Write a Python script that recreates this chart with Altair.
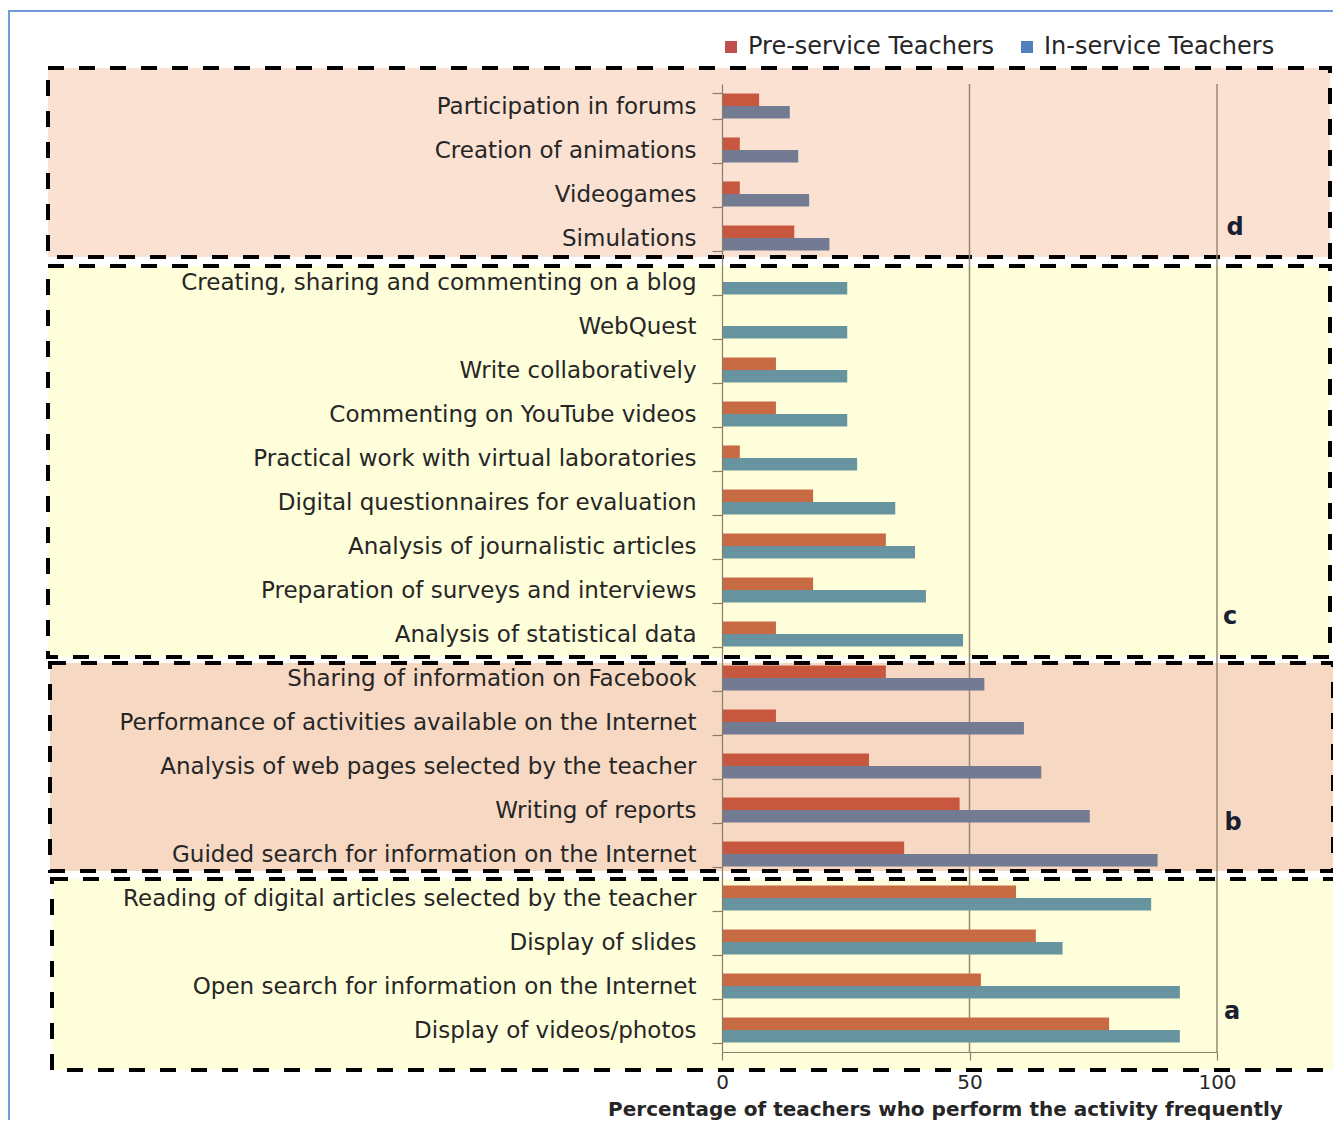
import altair as alt
import pandas as pd

# ---------------- data ----------------
activities = [
    "Participation in forums",
    "Creation of animations",
    "Videogames",
    "Simulations",
    "Creating, sharing and commenting on a blog",
    "WebQuest",
    "Write collaboratively",
    "Commenting on YouTube videos",
    "Practical work with virtual laboratories",
    "Digital questionnaires for evaluation",
    "Analysis of journalistic articles",
    "Preparation of surveys and interviews",
    "Analysis of statistical data",
    "Sharing of information on Facebook",
    "Performance of activities available on the Internet",
    "Analysis of web pages selected by the teacher",
    "Writing of reports",
    "Guided search for information on the Internet",
    "Reading of digital articles selected by the teacher",
    "Display of slides",
    "Open search for information on the Internet",
    "Display of videos/photos",
]
groups = ["d"] * 4 + ["c"] * 9 + ["b"] * 5 + ["a"] * 4
pre_service = [7.5, 3.6, 3.6, 14.6,
               0, 0, 10.9, 10.9, 3.6, 18.4, 33.1, 18.4, 10.9,
               33.1, 10.9, 29.7, 48.0, 36.8,
               59.4, 63.4, 52.3, 78.2]
in_service = [13.7, 15.4, 17.6, 21.7,
              25.3, 25.3, 25.3, 25.3, 27.3, 35.0, 39.0, 41.2, 48.7,
              53.0, 61.0, 64.5, 74.3, 88.0,
              86.7, 68.8, 92.5, 92.5]
series_names = ["Pre-service Teachers", "In-service Teachers"]
gridline_values = [50, 100]
x_ticks = [0, 50, 100]

# colours
legend_colors = ["#C0504D", "#4F81BD"]
bar_keys = ["pre-warm", "in-warm", "pre-cool", "in-cool"]
bar_colors = ["#C8573F", "#727B92", "#C86A43", "#6894A0"]
warm_groups = {"d", "b"}

rows = []
for act, g, p, i in zip(activities, groups, pre_service, in_service):
    scheme = "warm" if g in warm_groups else "cool"
    rows.append({"activity": act, "series": series_names[0], "value": p, "key": "pre-" + scheme})
    rows.append({"activity": act, "series": series_names[1], "value": i, "key": "in-" + scheme})
df = pd.DataFrame(rows)

# ---------------- layout ----------------
W, H = 495, 968
FONT = "DejaVu Sans"
TXT = "#262626"
AXC = "#8C7B6B"

one = pd.DataFrame({"k": [0]})

x_scale = alt.Scale(domain=[0, 100], nice=False, zero=True)

x_axis = alt.Axis(
    values=x_ticks, grid=False, zindex=1, labelFlush=False,
    domainColor=AXC, tickColor=AXC, tickSize=8, domainWidth=1.2, tickWidth=1.2,
    labelFont=FONT, labelFontSize=20, labelColor=TXT, labelPadding=12,
    title="Percentage of teachers who perform the activity  frequently",
    titleFont=FONT, titleFontSize=20, titleFontWeight="bold", titleColor=TXT,
    titleX=223, titleY=63, titleAlign="center", titleBaseline="alphabetic",
)
y_axis = alt.Axis(
    title=None, grid=False, zindex=1, tickBand="extent",
    domainColor=AXC, tickColor=AXC, tickSize=10, domainWidth=1.2, tickWidth=1.2,
    labelFont=FONT, labelFontSize=23, labelColor=TXT, labelPadding=16, labelLimit=1000,
)


def box(x0, x1, y0, y1, fill):
    return alt.Chart(one).mark_rect(
        fill=fill, stroke="black", strokeWidth=4, strokeDash=[16, 15]
    ).encode(x=alt.value(x0), x2=alt.value(x1), y=alt.value(y0), y2=alt.value(y1))


def letter(t, x, y):
    return alt.Chart(one).mark_text(
        text=t, font=FONT, fontSize=24, fontWeight="bold", color="#1b2030",
        align="center", baseline="middle",
    ).encode(x=alt.value(x), y=alt.value(y))


frame = alt.Chart(one).mark_rect(
    fill="white", stroke="#6F9CD6", strokeWidth=2
).encode(x=alt.value(-713), x2=alt.value(640), y=alt.value(-73), y2=alt.value(1100))

box_d = box(-674, 608, -16, 173, "#FAE1D2")
box_c = box(-674, 608, 182, 573, "#FEFEDA")
box_b = box(-672, 611, 579, 787, "#F7D9C3")
box_a = box(-670, 614, 795, 986, "#FEFEDA")

grid = alt.Chart(pd.DataFrame({"v": gridline_values})).mark_rule(
    color="#978872", strokeWidth=1.5
).encode(x=alt.X("v:Q", scale=x_scale, axis=x_axis))

bars = alt.Chart(df).mark_bar().encode(
    x=alt.X("value:Q", scale=x_scale, axis=x_axis),
    y=alt.Y("activity:N", sort=activities,
            scale=alt.Scale(paddingInner=0.43, paddingOuter=0.215), axis=y_axis),
    yOffset=alt.YOffset("series:N", sort=series_names,
                        scale=alt.Scale(domain=series_names, paddingInner=0, paddingOuter=0)),
    color=alt.Color("key:N", scale=alt.Scale(domain=bar_keys, range=bar_colors), legend=None),
)

letters = [
    letter("d", 513, 144),
    letter("c", 508, 533),
    letter("b", 511, 739),
    letter("a", 510, 928),
]

legend_layer = alt.Chart(pd.DataFrame({"series": series_names})).mark_square(size=144).encode(
    x=alt.value(-3000), y=alt.value(-3000),
    color=alt.Color(
        "series:N", sort=series_names,
        scale=alt.Scale(domain=series_names, range=legend_colors),
        legend=alt.Legend(
            title=None, orient="none", legendX=-3, legendY=-49, direction="horizontal",
            symbolType="square", symbolSize=144, symbolOpacity=1, symbolStrokeWidth=0,
            labelFont=FONT, labelFontSize=24, labelColor=TXT, labelOffset=5,
            columnPadding=20, labelLimit=1000,
        ),
    ),
)

chart = alt.layer(
    frame, box_d, box_c, box_b, box_a, grid, bars, *letters, legend_layer
).resolve_scale(color="independent").properties(
    width=W, height=H,
    autosize=alt.AutoSizeParams(type="none"),
    padding={"left": 714, "top": 76, "right": 116, "bottom": 68},
    background="white",
).configure_view(stroke=None)

chart.save("out.html", embed_options={"renderer": "svg", "actions": False})
